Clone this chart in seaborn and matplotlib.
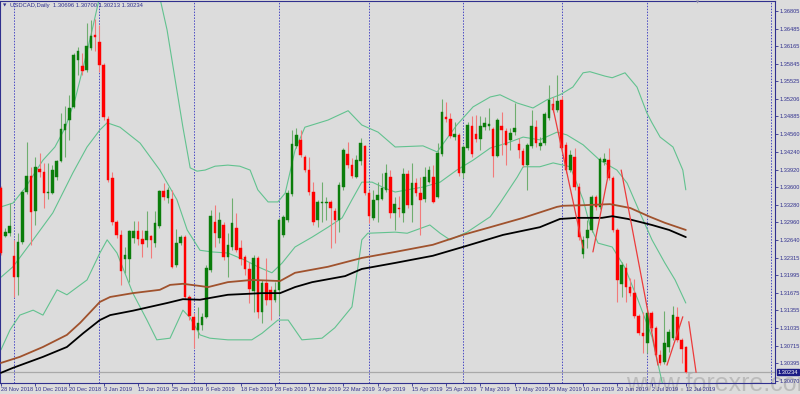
import numpy as np
import pandas as pd
import matplotlib
matplotlib.use("Agg")
import matplotlib.pyplot as plt
import matplotlib.transforms as mtransforms
import seaborn as sns

# ---------------- data ----------------
symbol_title = "USDCAD,Daily  1.30696 1.30700 1.30213 1.30234"
last_price = 1.30234
last_price_label = "1.30234"

date_labels = ["28 Nov 2018", "10 Dec 2018", "20 Dec 2018", "3 Jan 2019", "15 Jan 2019",
               "25 Jan 2019", "6 Feb 2019", "18 Feb 2019", "28 Feb 2019", "12 Mar 2019",
               "22 Mar 2019", "3 Apr 2019", "15 Apr 2019", "25 Apr 2019", "7 May 2019",
               "17 May 2019", "29 May 2019", "10 Jun 2019", "20 Jun 2019", "2 Jul 2019",
               "12 Jul 2019"]
date_bars = list(range(0, 161, 8))
month_start_bars = [3, 23, 45, 65, 86, 108, 131, 151]

price_ticks = [1.36805, 1.36485, 1.36165, 1.35845, 1.35525, 1.35206, 1.34885, 1.34560,
               1.34240, 1.33920, 1.33600, 1.33280, 1.32960, 1.32640, 1.32315, 1.31995,
               1.31675, 1.31355, 1.31035, 1.30715, 1.30395, 1.30070]
price_tick_labels = ["1.36805", "1.36485", "1.36165", "1.35845", "1.35525", "1.35206",
                     "1.34885", "1.34560", "1.34240", "1.33920", "1.33600", "1.33280",
                     "1.32960", "1.32640", "1.32315", "1.31995", "1.31675", "1.31355",
                     "1.31035", "1.30715", "1.30395", "1.30070"]

opens = [1.3358, 1.3271, 1.3276, 1.3235, 1.3196, 1.3260, 1.3351, 1.3380, 1.3317, 1.3393,
         1.3388, 1.3349, 1.3349, 1.3378, 1.3408, 1.3464, 1.3482, 1.3506, 1.3591, 1.3580,
         1.3573, 1.3613, 1.3637, 1.3624, 1.3582, 1.3484, 1.3377, 1.3297, 1.3273, 1.3229,
         1.3229, 1.3267, 1.3280, 1.3266, 1.3264, 1.3271, 1.3258, 1.3289, 1.3353, 1.3340,
         1.3338, 1.3218, 1.3258, 1.3269, 1.3160, 1.3124, 1.3100, 1.3109, 1.3124, 1.3209,
         1.3297, 1.3267, 1.3291, 1.3233, 1.3251, 1.3286, 1.3249, 1.3233, 1.3211, 1.3171,
         1.3231, 1.3133, 1.3185, 1.3173, 1.3155, 1.3173, 1.3273, 1.3300, 1.3347, 1.3435,
         1.3446, 1.3415, 1.3391, 1.3351, 1.3300, 1.3331, 1.3331, 1.3333, 1.3317, 1.3300,
         1.3360, 1.3420, 1.3400, 1.3378, 1.3408, 1.3435, 1.3349, 1.3304, 1.3337, 1.3338,
         1.3355, 1.3378, 1.3313, 1.3322, 1.3313, 1.3384, 1.3327, 1.3367, 1.3349, 1.3338,
         1.3369, 1.3378, 1.3342, 1.3420, 1.3488, 1.3484, 1.3451, 1.3455, 1.3386, 1.3431,
         1.3471, 1.3457, 1.3448, 1.3469, 1.3471, 1.3466, 1.3417, 1.3471, 1.3462, 1.3446,
         1.3460, 1.3438, 1.3426, 1.3400, 1.3435, 1.3469, 1.3435, 1.3440, 1.3486, 1.3511,
         1.3500, 1.3519, 1.3437, 1.3391, 1.3415, 1.3360, 1.3238, 1.3267, 1.3282, 1.3342,
         1.3324, 1.3406, 1.3409, 1.3377, 1.3282, 1.3184, 1.3213, 1.3178, 1.3167, 1.3125,
         1.3094, 1.3076, 1.3131, 1.3104, 1.3054, 1.3042, 1.3069, 1.3085, 1.3124, 1.3082,
         1.30696]
highs = [1.3362, 1.3286, 1.3331, 1.3264, 1.3276, 1.3355, 1.3442, 1.3397, 1.3415, 1.3422,
         1.3404, 1.3404, 1.3400, 1.3409, 1.3495, 1.3508, 1.3528, 1.3604, 1.3615, 1.3604,
         1.3659, 1.3664, 1.3666, 1.3655, 1.3586, 1.3489, 1.3388, 1.3300, 1.3282, 1.3251,
         1.3282, 1.3298, 1.3298, 1.3282, 1.3317, 1.3273, 1.3317, 1.3355, 1.3367, 1.3360,
         1.3355, 1.3284, 1.3273, 1.3273, 1.3164, 1.3131, 1.3142, 1.3131, 1.3218, 1.3318,
         1.3327, 1.3315, 1.3297, 1.3276, 1.3340, 1.3313, 1.3264, 1.3236, 1.3224, 1.3236,
         1.3235, 1.3191, 1.3231, 1.3180, 1.3187, 1.3304, 1.3309, 1.3355, 1.3464, 1.3468,
         1.3464, 1.3418, 1.3415, 1.3369, 1.3337, 1.3369, 1.3342, 1.3337, 1.3322, 1.3369,
         1.3431, 1.3442, 1.3413, 1.3418, 1.3449, 1.3437, 1.3355, 1.3355, 1.3369, 1.3386,
         1.3402, 1.3391, 1.3342, 1.3344, 1.3395, 1.3391, 1.3404, 1.3377, 1.3378, 1.3397,
         1.3398, 1.3400, 1.3440, 1.3520, 1.3515, 1.3495, 1.3479, 1.3458, 1.3437, 1.3479,
         1.3489, 1.3491, 1.3489, 1.3488, 1.3504, 1.3469, 1.3486, 1.3497, 1.3468, 1.3468,
         1.3513, 1.3449, 1.3431, 1.3440, 1.3500, 1.3482, 1.3451, 1.3497, 1.3546, 1.3524,
         1.3564, 1.3526, 1.3442, 1.3427, 1.3431, 1.3367, 1.3271, 1.3300, 1.3346, 1.3346,
         1.3415, 1.3422, 1.3431, 1.3380, 1.3286, 1.3224, 1.3222, 1.3195, 1.3193, 1.3129,
         1.3133, 1.3136, 1.3135, 1.3107, 1.3064, 1.3135, 1.3102, 1.3144, 1.3142, 1.3085,
         1.30700]
lows = [1.3236, 1.3269, 1.3271, 1.3160, 1.3164, 1.3256, 1.3347, 1.3255, 1.3291, 1.3378,
        1.3322, 1.3338, 1.3347, 1.3373, 1.3406, 1.3415, 1.3446, 1.3504, 1.3564, 1.3564,
        1.3570, 1.3610, 1.3608, 1.3570, 1.3482, 1.3369, 1.3291, 1.3267, 1.3182, 1.3204,
        1.3187, 1.3258, 1.3255, 1.3233, 1.3251, 1.3231, 1.3251, 1.3286, 1.3337, 1.3331,
        1.3213, 1.3215, 1.3255, 1.3156, 1.3118, 1.3067, 1.3085, 1.3100, 1.3122, 1.3206,
        1.3251, 1.3258, 1.3227, 1.3196, 1.3246, 1.3242, 1.3218, 1.3200, 1.3149, 1.3133,
        1.3122, 1.3113, 1.3145, 1.3118, 1.3151, 1.3127, 1.3269, 1.3297, 1.3344, 1.3431,
        1.3415, 1.3388, 1.3346, 1.3291, 1.3287, 1.3297, 1.3300, 1.3249, 1.3258, 1.3278,
        1.3355, 1.3395, 1.3377, 1.3377, 1.3400, 1.3346, 1.3295, 1.3300, 1.3297, 1.3337,
        1.3351, 1.3304, 1.3282, 1.3306, 1.3297, 1.3322, 1.3297, 1.3344, 1.3273, 1.3333,
        1.3367, 1.3331, 1.3340, 1.3417, 1.3479, 1.3449, 1.3446, 1.3380, 1.3377, 1.3427,
        1.3415, 1.3442, 1.3427, 1.3464, 1.3464, 1.3378, 1.3415, 1.3418, 1.3400, 1.3427,
        1.3455, 1.3413, 1.3397, 1.3355, 1.3431, 1.3433, 1.3427, 1.3437, 1.3482, 1.3497,
        1.3497, 1.3427, 1.3386, 1.3388, 1.3355, 1.3264, 1.3231, 1.3249, 1.3278, 1.3318,
        1.3320, 1.3400, 1.3373, 1.3278, 1.3151, 1.3160, 1.3151, 1.3162, 1.3122, 1.3091,
        1.3058, 1.3058, 1.3098, 1.3051, 1.3036, 1.3038, 1.3060, 1.3082, 1.3078, 1.3040,
        1.30213]
closes = [1.3240, 1.3278, 1.3289, 1.3196, 1.3260, 1.3351, 1.3380, 1.3315, 1.3397, 1.3388,
          1.3349, 1.3351, 1.3391, 1.3408, 1.3466, 1.3475, 1.3504, 1.3600, 1.3608, 1.3571,
          1.3617, 1.3635, 1.3633, 1.3582, 1.3488, 1.3373, 1.3297, 1.3273, 1.3207, 1.3236,
          1.3280, 1.3280, 1.3266, 1.3256, 1.3280, 1.3264, 1.3295, 1.3353, 1.3342, 1.3355,
          1.3215, 1.3258, 1.3269, 1.3160, 1.3125, 1.3100, 1.3113, 1.3124, 1.3213, 1.3307,
          1.3276, 1.3300, 1.3233, 1.3255, 1.3295, 1.3246, 1.3229, 1.3211, 1.3175, 1.3231,
          1.3133, 1.3185, 1.3155, 1.3155, 1.3173, 1.3300, 1.3306, 1.3349, 1.3438, 1.3455,
          1.3418, 1.3391, 1.3351, 1.3297, 1.3333, 1.3333, 1.3333, 1.3322, 1.3300, 1.3364,
          1.3428, 1.3400, 1.3380, 1.3409, 1.3440, 1.3349, 1.3307, 1.3337, 1.3346, 1.3358,
          1.3386, 1.3313, 1.3329, 1.3320, 1.3384, 1.3327, 1.3367, 1.3349, 1.3337, 1.3378,
          1.3391, 1.3333, 1.3422, 1.3497, 1.3484, 1.3453, 1.3457, 1.3386, 1.3433, 1.3473,
          1.3420, 1.3448, 1.3471, 1.3477, 1.3475, 1.3417, 1.3482, 1.3464, 1.3437, 1.3458,
          1.3468, 1.3427, 1.3400, 1.3437, 1.3471, 1.3440, 1.3440, 1.3493, 1.3519, 1.3500,
          1.3517, 1.3431, 1.3391, 1.3418, 1.3360, 1.3269, 1.3264, 1.3282, 1.3342, 1.3324,
          1.3411, 1.3411, 1.3377, 1.3282, 1.3191, 1.3218, 1.3178, 1.3167, 1.3125, 1.3094,
          1.3089, 1.3131, 1.3104, 1.3054, 1.3040, 1.3076, 1.3096, 1.3127, 1.3082, 1.3065,
          1.30234]

# moving averages (bar index, price)
ma_slow_bars = [0, 4.4, 9.8, 15.4, 18.5, 23.1, 25.5, 30.8, 37.1, 39.5, 42.5, 46.5, 48.4, 53.0,
                58.6, 65.2, 68.7, 76.4, 84.3, 92.1, 100.9, 107.9, 114.3, 122.0, 129.9, 131.3,
                136.0, 142.3, 147.0, 151.6, 155.1, 160.0]
ma_slow_vals = [1.3040, 1.3051, 1.3069, 1.3091, 1.3113, 1.3151, 1.3160, 1.3167, 1.3173, 1.3182,
                1.3184, 1.3180, 1.3178, 1.3187, 1.3191, 1.3189, 1.3204, 1.3215, 1.3231, 1.3242,
                1.3255, 1.3273, 1.3287, 1.3304, 1.3324, 1.3326, 1.3327, 1.3329, 1.3322, 1.3306,
                1.3295, 1.3282]
ma_long_bars = [0, 2.8, 9.8, 15.4, 19.2, 23.1, 25.5, 30.8, 38.8, 42.5, 46.5, 53.0, 61.0, 65.2,
                68.7, 72.7, 80.4, 84.3, 92.1, 100.9, 107.9, 117.3, 125.9, 130.6, 134.6, 140.4,
                142.8, 146.5, 152.1, 156.1, 160.0]
ma_long_vals = [1.3022, 1.3031, 1.3051, 1.3069, 1.3094, 1.3118, 1.3127, 1.3135, 1.3149, 1.3156,
                1.3155, 1.3164, 1.3167, 1.3167, 1.3178, 1.3187, 1.3198, 1.3211, 1.3222, 1.3235,
                1.3251, 1.3273, 1.3287, 1.3302, 1.3304, 1.3304, 1.3307, 1.3302, 1.3291, 1.3282,
                1.3269]

# Bollinger bands (bar index, price)
bb_upper_a_bars = [0, 2.8, 5.6, 9.8, 12.6, 15.0, 17.3, 19.6, 21.3, 23.0]
bb_upper_a_vals = [1.3324, 1.3331, 1.3358, 1.3409, 1.3433, 1.3468, 1.3519, 1.3591, 1.3646, 1.3705]
bb_upper_b_bars = [37.1, 38.8, 40.7, 42.5, 44.2, 45.8, 47.7, 50.0, 53.0, 55.8, 58.2, 60.0, 62.4,
                   64.7, 66.4, 68.7, 71.0, 76.4, 81.1, 84.3, 88.1, 92.1, 98.6, 101.9, 106.5,
                   110.3, 114.3, 116.6, 120.6, 124.3, 127.6, 130.6, 133.6, 136.0, 137.6, 141.1,
                   142.8, 145.8, 148.6, 150.9, 152.1, 154.0, 157.0, 159.3, 160.0]
bb_upper_b_vals = [1.3705, 1.3646, 1.3555, 1.3469, 1.3395, 1.3389, 1.3391, 1.3398, 1.3400, 1.3398,
                   1.3391, 1.3355, 1.3333, 1.3333, 1.3349, 1.3427, 1.3469, 1.3482, 1.3499, 1.3473,
                   1.3460, 1.3433, 1.3435, 1.3424, 1.3473, 1.3506, 1.3524, 1.3528, 1.3513, 1.3504,
                   1.3519, 1.3528, 1.3542, 1.3568, 1.3570, 1.3562, 1.3559, 1.3568, 1.3542, 1.3495,
                   1.3477, 1.3451, 1.3433, 1.3391, 1.3355]
bb_mid_bars = [0, 2.8, 7.5, 12.1, 16.8, 20.1, 23.1, 24.8, 27.8, 32.5, 37.1, 41.1, 43.5, 46.5,
               49.3, 53.0, 57.0, 60.0, 63.3, 65.7, 68.7, 72.7, 76.4, 79.7, 82.0, 84.3, 86.7,
               89.7, 92.1, 94.9, 98.6, 102.6, 106.5, 110.3, 114.3, 118.2, 122.0, 125.9, 129.9,
               132.2, 136.0, 139.9, 143.9, 146.3, 149.3, 152.1, 155.1, 157.5, 160.0]
bb_mid_vals = [1.3196, 1.3215, 1.3264, 1.3313, 1.3386, 1.3433, 1.3464, 1.3477, 1.3469, 1.3440,
               1.3391, 1.3337, 1.3282, 1.3245, 1.3242, 1.3240, 1.3227, 1.3215, 1.3204, 1.3222,
               1.3251, 1.3269, 1.3287, 1.3304, 1.3337, 1.3369, 1.3369, 1.3358, 1.3351, 1.3355,
               1.3360, 1.3369, 1.3391, 1.3409, 1.3431, 1.3440, 1.3451, 1.3446, 1.3460, 1.3455,
               1.3437, 1.3409, 1.3391, 1.3367, 1.3313, 1.3264, 1.3222, 1.3191, 1.3149]
bb_lower_bars = [0, 2.1, 4.4, 7.5, 9.8, 13.1, 15.4, 20.1, 23.1, 24.8, 27.1, 30.8, 34.1, 36.4,
                 39.5, 42.5, 44.2, 46.5, 48.8, 53.0, 58.6, 61.0, 64.7, 67.1, 68.7, 70.3, 75.0,
                 78.0, 82.0, 83.4, 84.3, 85.7, 92.1, 94.9, 100.2, 102.6, 104.9, 108.9, 114.3,
                 116.6, 120.6, 122.0, 125.9, 129.0, 133.0, 136.0, 137.6, 139.5, 142.8, 145.8,
                 148.8, 152.1, 154.6]
bb_lower_vals = [1.3064, 1.3100, 1.3127, 1.3136, 1.3127, 1.3173, 1.3164, 1.3191, 1.3240, 1.3264,
                 1.3240, 1.3167, 1.3118, 1.3082, 1.3085, 1.3136, 1.3122, 1.3091, 1.3085, 1.3082,
                 1.3082, 1.3094, 1.3118, 1.3118, 1.3100, 1.3082, 1.3085, 1.3104, 1.3142, 1.3215,
                 1.3264, 1.3276, 1.3278, 1.3276, 1.3291, 1.3276, 1.3264, 1.3278, 1.3306, 1.3331,
                 1.3378, 1.3397, 1.3397, 1.3404, 1.3397, 1.3337, 1.3291, 1.3258, 1.3251, 1.3213,
                 1.3155, 1.3087, 1.3000]

# red trend segments: (bar0, price0, bar1, price1)
trend_segments = [(128.8, 1.3510, 136.0, 1.3249),
                  (138.3, 1.3242, 142.1, 1.3391),
                  (144.9, 1.3391, 153.5, 1.3036),
                  (155.6, 1.3036, 159.3, 1.3124),
                  (160.7, 1.3115, 162.4, 1.3023)]

# ---------------- style ----------------
BG = "#dcdcdc"
NAVY = "#30308e"
UP = "#0b7d0b"
DOWN = "#ff0000"
UP_WICK = "#6fae6f"
DOWN_WICK = "#f27a7a"
BB_COL = "#62c28f"

sns.set_theme(style="white")
plt.rcParams["font.family"] = ["Liberation Sans", "DejaVu Sans"]

fig = plt.figure(figsize=(8, 3.94), dpi=100, facecolor=BG)
ax = fig.add_axes([0.0, 11 / 394, 775 / 800, 382 / 394])
ax.set_facecolor("none")

df = pd.DataFrame({"bar": np.arange(len(opens)), "open": opens, "high": highs,
                   "low": lows, "close": closes})
up = df["close"] >= df["open"]
dn = ~up

# wicks
ax.vlines(df.loc[up, "bar"], df.loc[up, "low"], df.loc[up, "high"], color=UP_WICK, lw=0.8, zorder=3)
ax.vlines(df.loc[dn, "bar"], df.loc[dn, "low"], df.loc[dn, "high"], color=DOWN_WICK, lw=0.8, zorder=3)
# bodies
ax.bar(df.loc[up, "bar"], (df["close"] - df["open"])[up], bottom=df.loc[up, "open"], width=0.6,
       color=UP, edgecolor=UP, linewidth=0.3, zorder=4)
ax.bar(df.loc[dn, "bar"], (df["open"] - df["close"])[dn], bottom=df.loc[dn, "close"], width=0.6,
       color=DOWN, edgecolor=DOWN, linewidth=0.3, zorder=4)

# bands and averages
for xs, ys in [(bb_upper_a_bars, bb_upper_a_vals), (bb_upper_b_bars, bb_upper_b_vals),
               (bb_mid_bars, bb_mid_vals), (bb_lower_bars, bb_lower_vals)]:
    sns.lineplot(x=xs, y=ys, ax=ax, color=BB_COL, lw=0.8, estimator=None, sort=False, zorder=2)
sns.lineplot(x=ma_slow_bars, y=ma_slow_vals, ax=ax, color="#a0522d", lw=1.3, estimator=None,
             sort=False, zorder=5)
sns.lineplot(x=ma_long_bars, y=ma_long_vals, ax=ax, color="black", lw=1.3, estimator=None,
             sort=False, zorder=5)

for b0, p0, b1, p1 in trend_segments:
    ax.plot([b0, b1], [p0, p1], color="#ec3b3b", lw=0.9, zorder=6)

# period separators
for b in month_start_bars:
    ax.axvline(b, color="#4a4ac4", lw=0.7, ls=(0, (1.5, 1.5)), zorder=1)
ax.axvline(179.9, color="#4a4ac4", lw=0.7, ls=(0, (1.5, 1.5)), zorder=1)

# bid line
ax.axhline(last_price, color="#a9a9a9", lw=0.9, zorder=1)

# axes limits
ax.set_xlim(-0.234, 180.84)
ax.set_ylim(1.300344, 1.369868)

# right price axis
ax.yaxis.tick_right()
ax.set_yticks(price_ticks)
ax.set_yticklabels(price_tick_labels)
ax.tick_params(axis="y", which="both", direction="out", length=2.2, width=0.6, color=NAVY,
               pad=1.2, labelsize=4.1, labelcolor=NAVY, right=True, left=False)
ax.set_ylabel("")

# bottom date axis
ax.set_xticks(date_bars)
ax.set_xticklabels(date_labels, ha="left")
ax.tick_params(axis="x", which="both", direction="out", length=2.2, width=0.6, color=NAVY,
               pad=1.0, labelsize=4.1, labelcolor=NAVY, bottom=True)
ax.set_xlabel("")
for lab in ax.get_xticklabels():
    lab.set_horizontalalignment("left")

for s in ax.spines.values():
    s.set_visible(True)
    s.set_color(NAVY)
    s.set_linewidth(0.8)
ax.grid(False)

# current price box
trans = mtransforms.blended_transform_factory(ax.transAxes, ax.transData)
ax.text(1.004, last_price, last_price_label, transform=trans, fontsize=4.1, color="white",
        va="center", ha="left", zorder=10, clip_on=False,
        bbox=dict(boxstyle="square,pad=0.15", fc="#1c1c86", ec="#1c1c86"))

# title
fig.text(3 / 800, 1 - 5.5 / 394, "\u25BC", fontsize=3.2, color=NAVY, va="center", ha="left",
         family=["DejaVu Sans"])
fig.text(10 / 800, 1 - 5.5 / 394, symbol_title, fontsize=4.2, color=NAVY, va="center", ha="left")

# chart-shift marker
fig.text(698 / 800, 1 - 3 / 394, "\u25BC", fontsize=3.0, color="#8a8aa8", va="center",
         ha="center", family=["DejaVu Sans"])

# watermark
fig.text(626 / 800, 3 / 394, "www.forexre.com", fontsize=18, color="#b6b6b6", alpha=0.85,
         va="baseline", ha="left", zorder=-1, family=["Liberation Sans"])

fig.savefig("out.png", dpi=100, facecolor=BG)
